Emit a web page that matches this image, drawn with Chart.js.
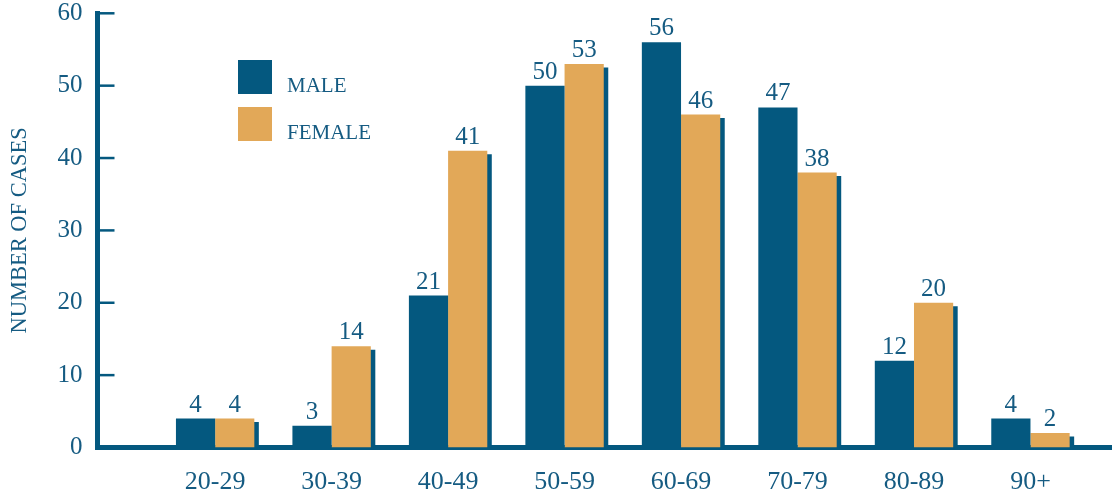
<!DOCTYPE html>
<html>
<head>
<meta charset="utf-8">
<title>Cases by age group</title>
<script src="https://cdn.jsdelivr.net/npm/chart.js@4.4.0/dist/chart.umd.min.js"></script>
<style>
  html, body { margin: 0; padding: 0; background: #fff; }
  #wrap { position: relative; width: 1112px; height: 496px; }
</style>
</head>
<body>
<div id="wrap"><canvas id="casesChart"></canvas></div>
<script>
  const ageGroups = ['20-29', '30-39', '40-49', '50-59', '60-69', '70-79', '80-89', '90+'];
  const maleCases = [4, 3, 21, 50, 56, 47, 12, 4];
  const femaleCases = [4, 14, 41, 53, 46, 38, 20, 2];
  const yTicks = [0, 10, 20, 30, 40, 50, 60];

  const BLUE = '#04587f';
  const TAN = '#e2a858';
  const INK = '#155b82';
  const SERIF = '"Liberation Serif", "Times New Roman", serif';

  // female bars carry a flat dark offset shadow on the right
  const barShadow = {
    id: 'barShadow',
    beforeDatasetDraw(chart, args) {
      if (args.index !== 1) return;
      const ctx = chart.ctx;
      ctx.save();
      ctx.shadowColor = BLUE;
      ctx.shadowBlur = 0;
      ctx.shadowOffsetX = 4.5;
      ctx.shadowOffsetY = 3.5;
    },
    afterDatasetDraw(chart, args) {
      if (args.index !== 1) return;
      chart.ctx.restore();
    }
  };

  // short tick marks pointing into the plot
  const innerTicks = {
    id: 'innerTicks',
    afterDraw(chart) {
      const ctx = chart.ctx;
      const y = chart.scales.y;
      const left = chart.chartArea.left;
      ctx.save();
      ctx.strokeStyle = BLUE;
      ctx.lineWidth = 2.5;
      yTicks.forEach(v => {
        if (v === 0) return;
        const py = y.getPixelForValue(v);
        ctx.beginPath();
        ctx.moveTo(left, py);
        ctx.lineTo(left + 17, py);
        ctx.stroke();
      });
      ctx.restore();
    }
  };

  const valueLabels = {
    id: 'valueLabels',
    afterDatasetsDraw(chart) {
      const ctx = chart.ctx;
      ctx.save();
      ctx.fillStyle = INK;
      ctx.font = '25px ' + SERIF;
      ctx.textAlign = 'center';
      ctx.textBaseline = 'alphabetic';
      chart.data.datasets.forEach((ds, i) => {
        chart.getDatasetMeta(i).data.forEach((bar, j) => {
          ctx.fillText(String(ds.data[j].y), bar.x, bar.y - 7);
        });
      });
      ctx.restore();
    }
  };

  const boxLegend = {
    id: 'boxLegend',
    afterDraw(chart) {
      const ctx = chart.ctx;
      ctx.save();
      ctx.font = '21px ' + SERIF;
      ctx.textBaseline = 'alphabetic';
      chart.data.datasets.forEach((ds, i) => {
        const top = 60 + i * 47;
        ctx.fillStyle = ds.backgroundColor;
        ctx.fillRect(238, top, 34, 34);
        ctx.fillStyle = INK;
        ctx.fillText(ds.label, 287, top + 32);
      });
      ctx.restore();
    }
  };

  new Chart(document.getElementById('casesChart'), {
    type: 'bar',
    data: {
      datasets: [
        {
          label: 'MALE',
          data: maleCases.map((v, i) => ({ x: i, y: v })),
          backgroundColor: BLUE
        },
        {
          label: 'FEMALE',
          data: femaleCases.map((v, i) => ({ x: i, y: v })),
          backgroundColor: TAN
        }
      ]
    },
    options: {
      responsive: true,
      maintainAspectRatio: false,
      animation: false,
      categoryPercentage: 0.673,
      barPercentage: 1,
      layout: { padding: { top: 13.3, left: 0, right: 0, bottom: 0 } },
      plugins: {
        legend: { display: false },
        tooltip: { enabled: false }
      },
      scales: {
        x: {
          type: 'linear',
          offset: false,
          min: -1.01,
          max: 7.7,
          afterBuildTicks: s => { s.ticks = ageGroups.map((_, i) => ({ value: i })); },
          afterFit: s => { s.height = 48.5; s.paddingLeft = 0; s.paddingRight = 0; },
          grid: { display: false, drawTicks: false },
          border: { display: true, color: BLUE, width: 5 },
          ticks: {
            color: INK,
            font: { family: SERIF, size: 26 },
            padding: 19,
            maxRotation: 0,
            autoSkip: false,
            callback: v => ageGroups[v]
          }
        },
        y: {
          min: 0,
          max: 60,
          afterBuildTicks: s => { s.ticks = yTicks.map(v => ({ value: v })); },
          afterFit: s => { s.width = 97.5; s.paddingTop = 0; s.paddingBottom = 0; },
          grid: { display: false, drawTicks: false },
          border: { display: true, color: BLUE, width: 5 },
          ticks: {
            color: INK,
            font: { family: SERIF, size: 25, lineHeight: 1 },
            padding: 15
          },
          title: {
            display: true,
            text: 'NUMBER OF CASES',
            color: INK,
            font: { family: SERIF, size: 22.5 },
            padding: 7
          }
        }
      }
    },
    plugins: [barShadow, innerTicks, valueLabels, boxLegend]
  });
</script>
</body>
</html>
